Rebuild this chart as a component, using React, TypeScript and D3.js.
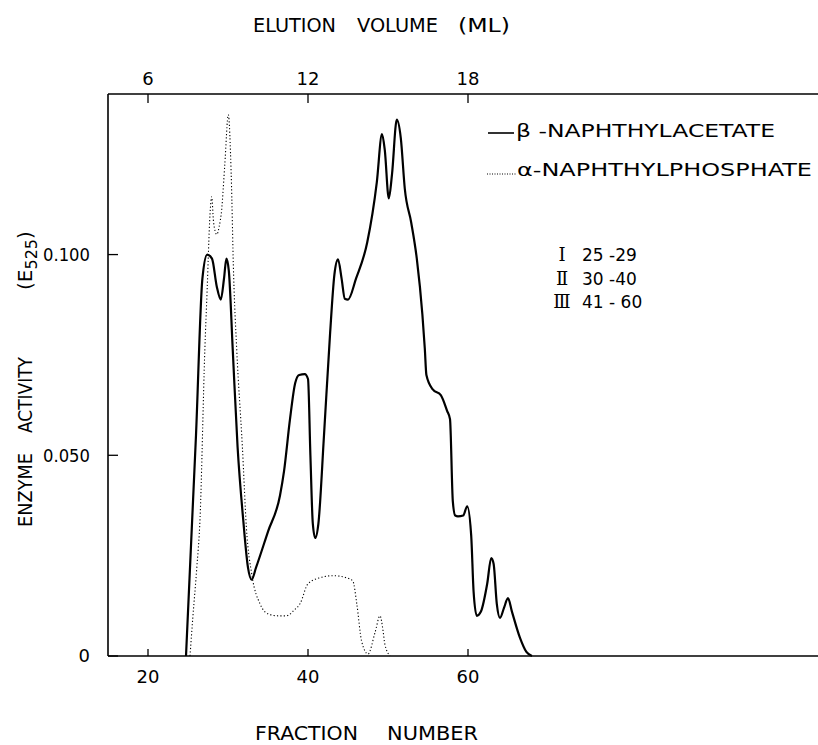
import React from 'react';
import * as d3 from 'd3';

// beta-naphthylacetate (solid) : fraction number / activity (E525)
const acetateFractions = [24.75, 26.0, 26.8, 27.4, 28.0, 28.6, 29.1, 29.5, 29.8, 30.1, 30.6, 31.2, 31.9, 32.5, 32.95, 33.5, 35.0, 36.5, 37.0, 37.75, 38.4, 38.9, 39.6, 40.0, 40.3, 40.6, 40.9, 41.3, 42.0, 42.75, 43.3, 43.75, 44.2, 44.6, 45.0, 46.0, 47.4, 48.6, 49.25, 49.6, 50.1, 50.5, 51.1, 51.6, 52.1, 52.9, 53.6, 54.3, 54.6, 54.8, 55.6, 56.6, 57.4, 57.75, 58.1, 58.4, 58.75, 59.4, 59.9, 60.4, 60.7, 61.1, 61.6, 62.4, 62.9, 63.2, 63.6, 64.0, 64.5, 65.0, 65.5, 66.5, 67.3, 68.0];
const acetateValues = [0, 0.055, 0.094, 0.100, 0.099, 0.092, 0.0888, 0.094, 0.099, 0.096, 0.076, 0.052, 0.034, 0.022, 0.019, 0.022, 0.031, 0.040, 0.046, 0.059, 0.068, 0.070, 0.0702, 0.069, 0.050, 0.033, 0.0294, 0.033, 0.055, 0.080, 0.095, 0.0988, 0.094, 0.089, 0.0888, 0.094, 0.103, 0.118, 0.130, 0.126, 0.114, 0.120, 0.1336, 0.129, 0.1164, 0.108, 0.099, 0.085, 0.0766, 0.070, 0.0664, 0.065, 0.061, 0.059, 0.0386, 0.035, 0.0348, 0.035, 0.0373, 0.030, 0.016, 0.010, 0.011, 0.018, 0.0244, 0.023, 0.013, 0.0095, 0.012, 0.0144, 0.011, 0.0045, 0.001, 0];

// alpha-naphthylphosphate (dotted)
const phosphateFractions = [25.25, 25.6, 26.1, 26.5, 27.1, 27.4, 27.75, 27.96, 28.2, 28.6, 28.9, 29.2, 29.6, 30.04, 30.4, 30.7, 31.1, 31.8, 32.3, 33.0, 34.0, 35.0, 36.3, 37.3, 38.3, 39.0, 40.0, 41.5, 43.2, 44.8, 45.6, 46.1, 46.7, 47.5, 48.4, 49.0, 49.4, 49.6, 50.25];
const phosphateValues = [0, 0.0095, 0.022, 0.034, 0.076, 0.0916, 0.110, 0.1144, 0.108, 0.105, 0.107, 0.111, 0.1224, 0.1348, 0.120, 0.095, 0.076, 0.052, 0.032, 0.020, 0.013, 0.0105, 0.010, 0.010, 0.0115, 0.013, 0.018, 0.0195, 0.020, 0.0195, 0.0187, 0.013, 0.0037, 0.0005, 0.006, 0.010, 0.006, 0.003, 0];

const fractionTicks = [20, 40, 60];
const volumeTicks = [6, 12, 18];
const activityTicks = [0, 0.05, 0.1];
const activityTickLabels = ['0', '0.050', '0.100'];

const seriesNames = ['\u03B2 -NAPHTHYLACETATE', '\u03B1-NAPHTHYLPHOSPHATE'];
const peakNumerals = ['\u2160', '\u2161', '\u2162'];
const peakRanges = ['25 -29', '30 -40', '41 - 60'];

const W = 818;
const H = 745;
const font = '"DejaVu Sans", sans-serif';

export default function App() {
  const x = d3.scaleLinear().domain([15, 103.75]).range([108, 818]);
  const xVol = d3.scaleLinear().domain([15 * 0.3, 103.75 * 0.3]).range([108, 818]);
  const y = d3.scaleLinear().domain([0, 0.14]).range([656, 94]);

  const line = d3.line<[number, number]>()
    .x(d => x(d[0]))
    .y(d => y(d[1]))
    .curve(d3.curveMonotoneX);

  const acetate = acetateFractions.map((f, i) => [f, acetateValues[i]] as [number, number]);
  const phosphate = phosphateFractions.map((f, i) => [f, phosphateValues[i]] as [number, number]);

  const left = x.range()[0];
  const right = x.range()[1];
  const top = y.range()[1];
  const bottom = y.range()[0];

  return (
    <svg width={W} height={H} style={{ position: 'absolute', left: 0, top: 0, background: '#fff' }}
      fontFamily={font}>
      {/* frame */}
      <g stroke="#000" strokeWidth={1.6} fill="none">
        <line x1={left} x2={left} y1={top} y2={bottom} />
        <line x1={left} x2={right} y1={top} y2={top} />
        <line x1={left} x2={right} y1={bottom} y2={bottom} />
      </g>

      {/* bottom axis */}
      {fractionTicks.map(t => (
        <g key={'b' + t}>
          <line x1={x(t)} x2={x(t)} y1={bottom} y2={bottom - 7} stroke="#000" strokeWidth={1.3} />
          <text x={x(t)} y={683} textAnchor="middle" fontSize={18}>{t}</text>
        </g>
      ))}

      {/* top axis */}
      {volumeTicks.map(t => (
        <g key={'t' + t}>
          <line x1={xVol(t)} x2={xVol(t)} y1={top} y2={top + 9} stroke="#000" strokeWidth={1.3} />
          <text x={xVol(t)} y={85} textAnchor="middle" fontSize={18}>{t}</text>
        </g>
      ))}

      {/* left axis */}
      {activityTicks.map((t, i) => (
        <g key={'l' + t}>
          <line x1={left} x2={left + 10} y1={y(t)} y2={y(t)} stroke="#000" strokeWidth={1.3} />
          <text x={90} y={y(t)} dy="0.36em" textAnchor="end" fontSize={18}
            textLength={t === 0 ? undefined : 47} lengthAdjust="spacingAndGlyphs">{activityTickLabels[i]}</text>
        </g>
      ))}

      {/* curves */}
      <path d={line(acetate) || ''} fill="none" stroke="#000" strokeWidth={2.2} strokeLinejoin="round" />
      <path d={line(phosphate) || ''} fill="none" stroke="#000" strokeWidth={1.1} strokeDasharray="1.2,2.2" />

      {/* axis titles */}
      <g fontSize={20}>
        <text x={253} y={32} textLength={83} lengthAdjust="spacingAndGlyphs">ELUTION</text>
        <text x={357} y={32} textLength={81} lengthAdjust="spacingAndGlyphs">VOLUME</text>
        <text x={458} y={32} textLength={52} lengthAdjust="spacingAndGlyphs">(ML)</text>

        <text x={255} y={740} fontSize={19} textLength={103} lengthAdjust="spacingAndGlyphs">FRACTION</text>
        <text x={387} y={740} fontSize={19} textLength={91} lengthAdjust="spacingAndGlyphs">NUMBER</text>

        <g transform="translate(32,0) rotate(-90)">
          <text x={-527} y={0} textLength={74} lengthAdjust="spacingAndGlyphs">ENZYME</text>
          <text x={-433} y={0} textLength={76} lengthAdjust="spacingAndGlyphs">ACTIVITY</text>
          <text x={-290} y={0}>(E<tspan fontSize={16} dy={5}>525</tspan><tspan dy={-5}>)</tspan></text>
        </g>
      </g>

      {/* legend */}
      <line x1={488} x2={514} y1={133} y2={133} stroke="#000" strokeWidth={1.6} />
      <text x={516} y={137} fontSize={17} textLength={259} lengthAdjust="spacingAndGlyphs">{seriesNames[0]}</text>
      <line x1={487} x2={516} y1={174} y2={174} stroke="#000" strokeWidth={1} strokeDasharray="1,1.5" />
      <text x={517} y={176} fontSize={17} textLength={295} lengthAdjust="spacingAndGlyphs">{seriesNames[1]}</text>

      {peakNumerals.map((n, i) => (
        <g key={n} fontSize={18}>
          <text x={562} y={261 + i * 23.5} textAnchor="middle" fontFamily='"DejaVu Serif", "Noto Sans CJK JP", serif'>{n}</text>
          <text x={582} y={261 + i * 23.5} fontSize={17}>{peakRanges[i]}</text>
        </g>
      ))}
    </svg>
  );
}
